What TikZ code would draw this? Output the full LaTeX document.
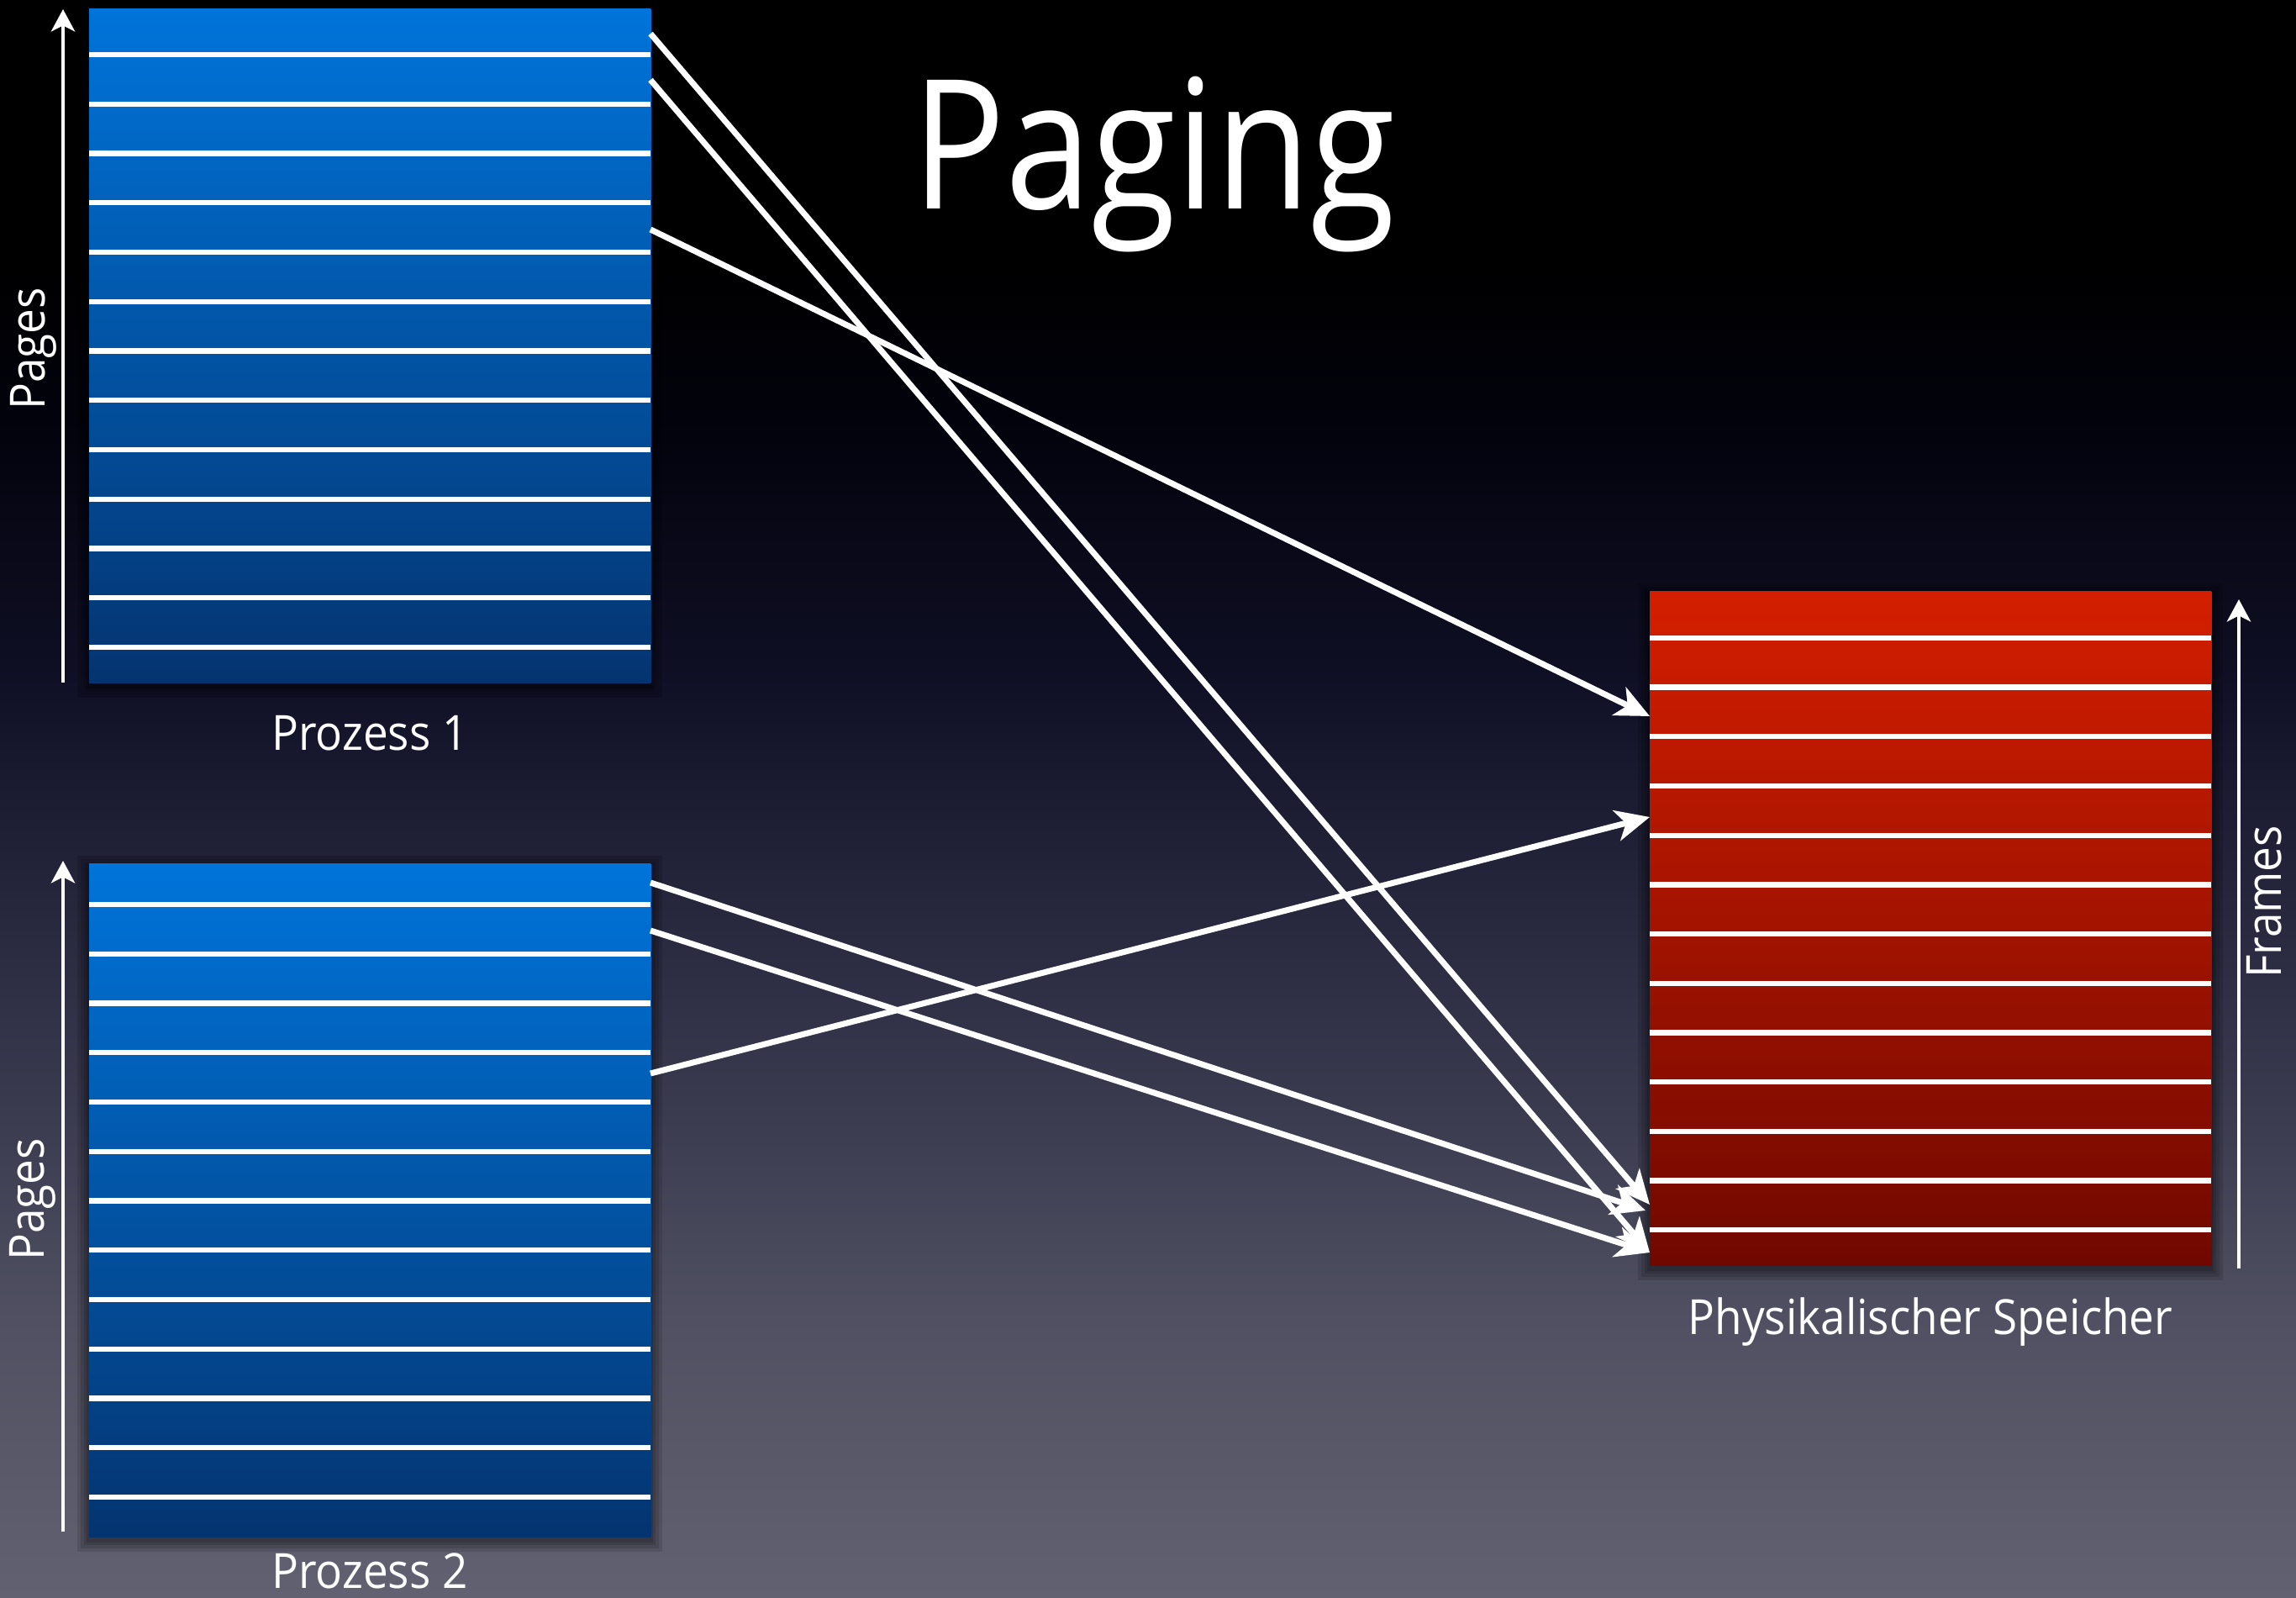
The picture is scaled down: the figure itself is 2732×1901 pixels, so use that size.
\documentclass[tikz,border=0pt]{standalone}
\usepackage{fontspec}
\setmainfont{Open Sans}
\usepackage{graphicx}
\usetikzlibrary{arrows.meta}
\definecolor{bgbot}{RGB}{98,97,113}
\definecolor{bglow}{RGB}{80,80,98}
\definecolor{bgmid}{RGB}{50,50,72}
\definecolor{bgdark}{RGB}{16,16,38}
\definecolor{bgtop}{RGB}{2,2,12}
\definecolor{blueTop}{RGB}{0,116,218}
\definecolor{blueBot}{RGB}{4,52,112}
\definecolor{redTop}{RGB}{212,30,0}
\definecolor{redBot}{RGB}{112,8,0}
% TikZ maps the path onto the middle 25bp--75bp of a declared shading
\pgfdeclareverticalshading{bgshade}{100bp}{color(0bp)=(bgbot); color(25bp)=(bgbot); color(33.75bp)=(bglow); color(43bp)=(bgmid); color(53.5bp)=(bgdark); color(62bp)=(bgtop); color(67bp)=(black); color(100bp)=(black)}
\newcommand\gsx[1]{\scalebox{0.92}[1]{#1}}
\tikzset{
  memblock/.style={draw=none, inner sep=0pt, outer sep=0pt, anchor=north west, minimum width=6.68cm, minimum height=8.01cm},
  bluebox/.style={memblock, top color=blueTop, bottom color=blueBot},
  redbox/.style={memblock, top color=redTop, bottom color=redBot},
  rowline/.style={white, line width=1.8pt},
  maparrow/.style={white, line width=2pt, -{Stealth[length=11.5pt,width=10.5pt,inset=3.2pt]}},
  axisarrow/.style={white, line width=1.3pt, -{Stealth[length=7.5pt,width=8pt,inset=2pt]}},
  lbl/.style={text=white, font=\fontsize{16.4}{20}\selectfont, inner sep=0pt, anchor=base},
  softshadow/.style={black, opacity=0.12},
}
\begin{document}
\begin{tikzpicture}[x=0.01cm, y=-0.01cm]
\useasboundingbox (0,0) rectangle (2732,1901);
\shade[shading=bgshade] (0,0) rectangle (2732,1901);

% soft shadows
\foreach \d in {3,6,10,14} {
  \fill[softshadow] (106-\d,11-\d+4) rectangle (774+\d,812+\d+4);
  \fill[softshadow] (106-\d,1028-\d+4) rectangle (774+\d,1828+\d+4);
  \fill[softshadow] (1963-\d,704-\d+4) rectangle (2631+\d,1505+\d+4);
}

% memory blocks
\node[bluebox] (p1) at (106,11) {};
\node[bluebox, minimum height=8.00cm] (p2) at (106,1028) {};
\node[redbox] (mem) at (1963,704) {};

\foreach \k in {0,...,12} {
  \draw[rowline] (106,65+58.75*\k) -- (774,65+58.75*\k);
  \draw[rowline] (106,1076+58.75*\k) -- (774,1076+58.75*\k);
  \draw[rowline] (1963,759+58.67*\k) -- (2631,759+58.67*\k);
}

% title
\node[text=white, inner sep=0pt, anchor=base, font=\fontsize{61}{70}\selectfont] (title) at (1373,249) {\scalebox{0.86}[1]{Paging}};

% labels
\node[lbl] (l1) at (440,893) {\gsx{Prozess 1}};
\node[lbl] (l2) at (440,1889) {\gsx{Prozess 2}};
\node[lbl] (l3) at (2297,1587) {\gsx{Physikalischer Speicher}};
\node[lbl, rotate=90] (pg1) at (53,415) {\gsx{Pages}};
\node[lbl, rotate=90] (pg2) at (52,1427) {\gsx{Pages}};
\node[lbl, rotate=90] (fr) at (2714,1073) {\gsx{Frames}};

% axis arrows
\coordinate (ax1s) at (75,812);
\coordinate (ax1e) at (75,11);
\coordinate (ax2s) at (75,1822);
\coordinate (ax2e) at (75,1024);
\coordinate (ax3s) at (2664,1509);
\coordinate (ax3e) at (2664,713);
\draw[axisarrow] (ax1s) -- (ax1e);
\draw[axisarrow] (ax2s) -- (ax2e);
\draw[axisarrow] (ax3s) -- (ax3e);

% page -> frame mapping
\coordinate (a1) at (774,40);
\coordinate (a2) at (774,95);
\coordinate (a5) at (774,273);
\coordinate (b1) at (774,1050);
\coordinate (b2) at (774,1107);
\coordinate (b5) at (774,1277);
\coordinate (m3) at (1963,852);
\coordinate (m5) at (1963,972);
\coordinate (m13a) at (1963,1433);
\coordinate (m13b) at (1958,1440);
\coordinate (m14) at (1963,1490);
\draw[maparrow] (a1) -- (m13a);
\draw[maparrow] (a2) -- (m14);
\draw[maparrow] (a5) -- (m3);
\draw[maparrow] (b1) -- (m13b);
\draw[maparrow] (b2) -- (m14);
\draw[maparrow] (b5) -- (m5);
\end{tikzpicture}
\end{document}
